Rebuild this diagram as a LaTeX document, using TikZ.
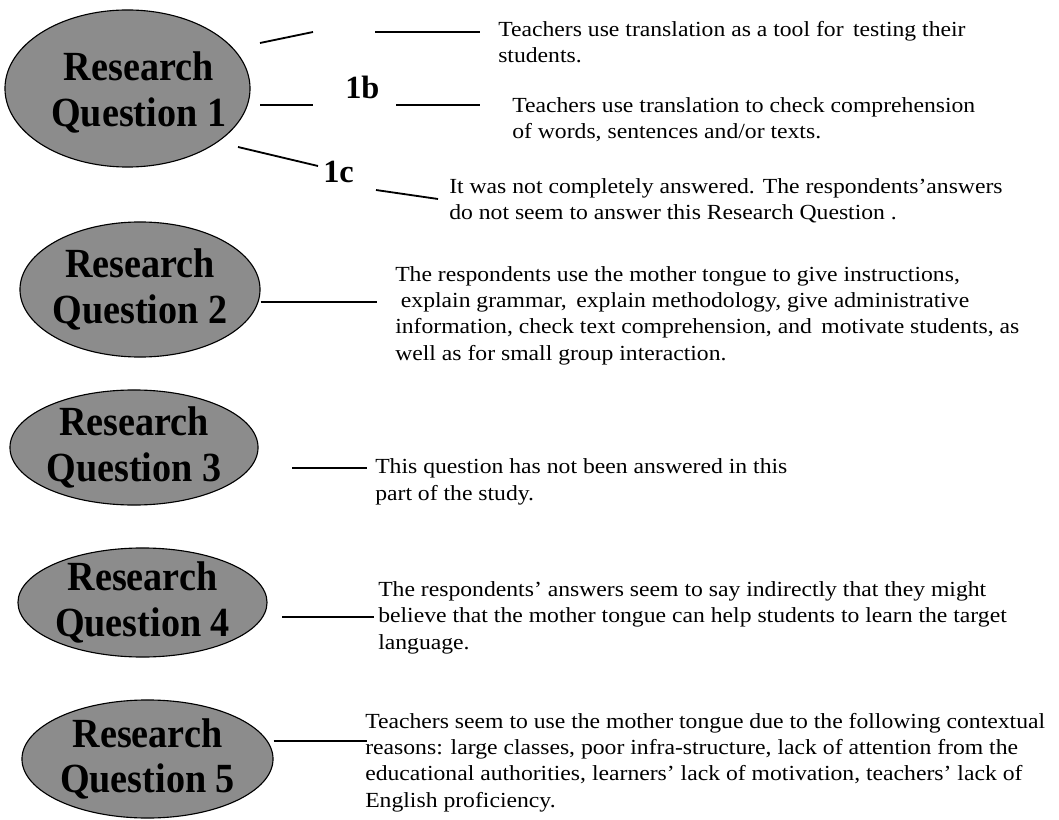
\documentclass[tikz,border=0pt]{standalone}
\usepackage{fontspec}
\setmainfont{Liberation Serif}
\newfontfamily\answerfont[FakeStretch=1.1,Ligatures=TeX]{Liberation Serif}
\newfontfamily\rqfont[FakeStretch=0.92]{Liberation Serif}
\usetikzlibrary{shapes,positioning}
\tikzset{rq/.style={ellipse, draw=black, line width=0.8pt, fill=black!45, inner sep=0pt},
    rqtext/.style={align=center, inner sep=0pt, font=\rqfont\fontsize{29.5}{32.5}\selectfont\bfseries},
    answer/.style={anchor=base west, align=left, inner sep=0pt,
        font=\answerfont\fontsize{15.3}{18.5}\selectfont},
    tag/.style={anchor=base west, inner sep=0pt, font=\fontsize{23}{25}\selectfont\bfseries},
    edge/.style={color=black, line width=1.3pt}}

\begin{document}
\begin{tikzpicture}[x=0.025cm, y=-0.025cm]
                \useasboundingbox (0,0) rectangle (1059,820);

                % research questions
                \node [rq, minimum width=6.125cm, minimum height=3.925cm] (q1) at (127.5,88.5) {};
                \node [rq, minimum width=6cm, minimum height=3.375cm] (q2) at (140,289.5) {};
                \node [rq, minimum width=6.2cm, minimum height=2.875cm] (q3) at (134,447.5) {};
                \node [rq, minimum width=6.225cm, minimum height=2.725cm] (q4) at (142.5,602.5) {};
                \node [rq, minimum width=6.275cm, minimum height=2.95cm] (q5) at (147.5,759) {};
                \node [rqtext] (q1t) at ([xshift=8,yshift=-3]q1) {Research\\Question 1};
                \node [rqtext] (q2t) at (q2) {Research\\Question 2};
                \node [rqtext] (q3t) at (q3) {Research\\Question 3};
                \node [rqtext] (q4t) at (q4) {Research\\Question 4};
                \node [rqtext] (q5t) at (q5) {Research\\Question 5};

                % sub questions of 1
                \node [tag] (tb) at (345,99) {1b};
                \node [tag] (tc) at (323,183) {1c};

                \coordinate (a1s) at (260,43);
                \coordinate (a1e) at (313,32);
                \coordinate (a2s) at (375,32);
                \coordinate (a2e) at (480,32);
                \coordinate (b1s) at (260,105);
                \coordinate (b1e) at (313,105);
                \coordinate (b2s) at (396,105);
                \coordinate (b2e) at (480,105);
                \coordinate (c1s) at (238,147);
                \coordinate (c1e) at (318,166);
                \coordinate (c2s) at (376,190);
                \coordinate (c2e) at (438,199);
                \coordinate (l2) at (377,302);
                \coordinate (l3s) at (292,468);
                \coordinate (l3e) at (367,468);
                \coordinate (l4s) at (282,617);
                \coordinate (l4e) at (374,617);
                \coordinate (l5) at (367,741);

                \path[edge] (a1s) edge (a1e)
                    (a2s) edge (a2e)
                    (b1s) edge (b1e)
                    (b2s) edge (b2e)
                    (c1s) edge (c1e)
                    (c2s) edge (c2e)
                    (q2.east |- l2) edge (l2)
                    (l3s) edge (l3e)
                    (l4s) edge (l4e)
                    (q5.east |- l5) edge (l5);

                % answers (anchored at the last baseline)
                \node [answer] (ta) at (498,63) {Teachers use translation as a tool for\, testing their\\students.};
                \node [answer] (tbb) at (512,139) {Teachers use translation to check comprehension\\of words, sentences and/or texts.};
                \node [answer] (tcc) at (449,220) {It was not completely answered. The respondents'answers\\do not seem to answer this Research Question .};
                \node [answer] (t2) at (395,360) {The respondents use the mother tongue to give instructions,\\
                    \hspace{4pt}explain grammar,\, explain methodology, give administrative\\
                    information, check text comprehension, and\, motivate students, as\\
                    well as for small group interaction.};
                \node [answer] (t3) at (375,500) {This question has not been answered in this\\part of the study.};
                \node [answer] (t4) at (378,649) {The respondents' answers seem to say indirectly that they might\\
                    believe that the mother tongue can help students to learn the target\\
                    language.};
                \node [answer] (t5) at (365,807) {Teachers seem to use the mother tongue due to the following contextual\\
                    reasons: large classes, poor infra-structure, lack of attention from the\\
                    educational authorities, learners' lack of motivation, teachers' lack of\\
                    English proficiency.};

            \end{tikzpicture}
\end{document}
